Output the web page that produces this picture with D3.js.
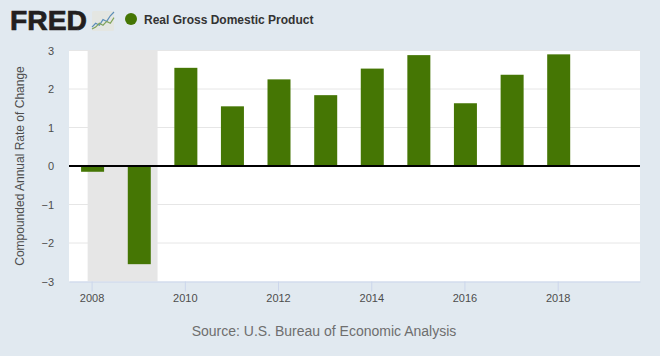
<!DOCTYPE html>
<html>
<head>
<meta charset="utf-8">
<script src="https://cdn.jsdelivr.net/npm/d3@7"></script>
<style>
  html, body { margin: 0; padding: 0; background: #e1e9f0; }
  svg { display: block; font-family: "Liberation Sans", Arial, sans-serif; }
</style>
</head>
<body>
<svg></svg>
<script>
const years = [2008, 2009, 2010, 2011, 2012, 2013, 2014, 2015, 2016, 2017, 2018];
const gdp = [-0.15, -2.55, 2.55, 1.55, 2.25, 1.84, 2.53, 2.88, 1.63, 2.37, 2.9];
const yTicks = [-3, -2, -1, 0, 1, 2, 3];
const xTickYears = [2008, 2010, 2012, 2014, 2016, 2018];
const recession = ["2007-12-01", "2009-06-01"];
const xDomain = ["2007-07-08", "2019-10-08"];
const iconBlue = [1, 3, 2, 5, 4, 7, 9];
const iconGreen = [0, 1, 3, 2, 4, 3, 6];

const seriesName = "Real Gross Domestic Product";
const yLabel = "Compounded Annual Rate of Change";
const source = "Source: U.S. Bureau of Economic Analysis";

const width = 660, height = 356;
const margin = { left: 69, right: 20, top: 50.5, bottom: 74.5 };
const svg = d3.select("svg").attr("width", width).attr("height", height);
const parseDate = d3.timeParse("%Y-%m-%d");

const x_scale = d3.scaleTime()
  .domain(xDomain.map(parseDate))
  .range([margin.left, width - margin.right]);
const y_scale = d3.scaleLinear()
  .domain([-3, 3])
  .range([height - margin.bottom, margin.top]);

const barWidth = 23;
const yearDate = y => new Date(y, 0, 1);

// plot background
svg.append("rect")
  .attr("x", margin.left).attr("y", margin.top)
  .attr("width", width - margin.left - margin.right)
  .attr("height", height - margin.top - margin.bottom)
  .attr("fill", "#ffffff");

// recession band
svg.append("rect")
  .attr("x", x_scale(parseDate(recession[0])))
  .attr("y", margin.top)
  .attr("width", x_scale(parseDate(recession[1])) - x_scale(parseDate(recession[0])))
  .attr("height", height - margin.top - margin.bottom)
  .attr("fill", "#e6e6e6");

// grid lines
svg.append("g").selectAll("line")
  .data(yTicks.filter(d => d !== 0 && d !== -3))
  .join("line")
  .attr("x1", margin.left).attr("x2", width - margin.right)
  .attr("y1", d => y_scale(d)).attr("y2", d => y_scale(d))
  .attr("stroke", "#e6e6e6").attr("stroke-width", 1);

// bars
svg.append("g").selectAll("rect")
  .data(years)
  .join("rect")
  .attr("x", d => x_scale(yearDate(d)) + 1 - barWidth / 2)
  .attr("width", barWidth)
  .attr("y", (d, i) => y_scale(Math.max(gdp[i], 0)))
  .attr("height", (d, i) => Math.abs(y_scale(gdp[i]) - y_scale(0)))
  .attr("fill", "#457604");

// zero line
svg.append("line")
  .attr("x1", margin.left).attr("x2", width - margin.right)
  .attr("y1", y_scale(0)).attr("y2", y_scale(0))
  .attr("stroke", "#000000").attr("stroke-width", 2);

// x axis
const x_axis = d3.axisBottom(x_scale)
  .tickValues(xTickYears.map(yearDate))
  .tickFormat(d3.timeFormat("%Y"))
  .tickSize(10)
  .tickSizeOuter(0)
  .tickPadding(3);
const xG = svg.append("g")
  .attr("transform", `translate(0,${height - margin.bottom})`)
  .call(x_axis);
xG.select(".domain").attr("stroke", "#ccd6eb");
xG.selectAll("line").attr("stroke", "#ccd6eb");
xG.selectAll("text").attr("fill", "#4d4d4d").style("font-size", "11px");

// y axis
const y_axis = d3.axisLeft(y_scale)
  .tickValues(yTicks)
  .tickFormat(d3.format("d"))
  .tickSize(0)
  .tickPadding(15);
const yG = svg.append("g")
  .attr("transform", `translate(${margin.left},0)`)
  .call(y_axis);
yG.select(".domain").remove();
yG.selectAll("text").attr("fill", "#4d4d4d").style("font-size", "11px");

// y label
svg.append("text")
  .attr("text-anchor", "middle")
  .attr("transform", `translate(24,${(margin.top + height - margin.bottom) / 2}) rotate(-90)`)
  .attr("fill", "#4d4d4d")
  .style("font-size", "12px")
  .text(yLabel);

// source
svg.append("text")
  .attr("x", 324).attr("y", 336)
  .attr("text-anchor", "middle")
  .attr("fill", "#6e6e6e")
  .style("font-size", "14px")
  .text(source);

// logo
svg.append("text")
  .attr("x", 10).attr("y", 30)
  .attr("fill", "#231f20")
  .attr("stroke", "#231f20")
  .attr("stroke-width", 0.7)
  .attr("textLength", 77)
  .attr("lengthAdjust", "spacingAndGlyphs")
  .style("font-size", "28px")
  .style("font-weight", "bold")
  .text("FRED");

const iconX = d3.scaleLinear().domain([0, 6]).range([92, 114]);
const iconY = d3.scaleLinear().domain([0, 9]).range([29, 12]);
const icon = svg.append("g");
icon.append("rect")
  .attr("x", 92).attr("y", 11).attr("width", 22).attr("height", 20)
  .attr("rx", 1.5)
  .attr("fill", "#e4e6e2");
const iconLine = d3.line().x((d, i) => iconX(i)).y(d => iconY(d));
icon.append("path").attr("d", iconLine(iconBlue))
  .attr("fill", "none").attr("stroke", "#5b8db8").attr("stroke-width", 1.2);
icon.append("path").attr("d", iconLine(iconGreen))
  .attr("fill", "none").attr("stroke", "#7fa35a").attr("stroke-width", 1.2);

// legend
svg.append("circle")
  .attr("cx", 131).attr("cy", 19).attr("r", 6)
  .attr("fill", "#457604");
svg.append("text")
  .attr("x", 144).attr("y", 24)
  .attr("fill", "#333333")
  .style("font-size", "12px")
  .style("font-weight", "bold")
  .text(seriesName);
</script>
</body>
</html>
